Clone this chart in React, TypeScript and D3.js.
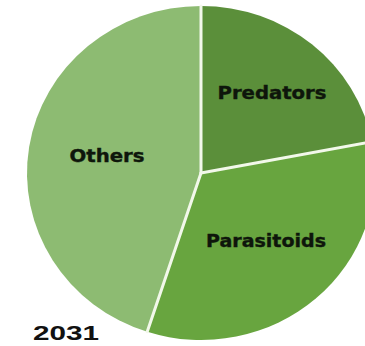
import React from "react";
import * as d3 from "d3";

const categories = ["Predators", "Parasitoids", "Others"];
const values = [22, 33, 45];
const colors = ["#5b8f3a", "#68a53f", "#8dbb72"];
const title = "2031";

const W = 365;
const H = 346;
const cx = 201;
const cy = 173;
const ry = 167;
const rx = 174;

const labelPos: Record<string, [number, number, number]> = {
  Predators: [272, 99, 109],
  Parasitoids: [266, 247, 120],
  Others: [107, 162, 75],
};

export default function App() {
  const pie = d3.pie<number>().sort(null).value((d) => d)(values);
  const arc = d3.arc<d3.PieArcDatum<number>>().innerRadius(0).outerRadius(ry);
  return (
    <svg
      width={W}
      height={H}
      style={{ position: "absolute", left: 0, top: 0, background: "#fff" }}
    >
      <g transform={`translate(${cx},${cy}) scale(${rx / ry},1)`}>
        {pie.map((p, i) => (
          <path key={categories[i]} d={arc(p) || ""} fill={colors[i]} />
        ))}
      </g>
      {pie.map((p, i) => (
        <line
          key={"div" + i}
          x1={cx}
          y1={cy}
          x2={cx + rx * Math.sin(p.startAngle)}
          y2={cy - ry * Math.cos(p.startAngle)}
          stroke="#f2f8ea"
          strokeWidth={3}
          strokeLinecap="round"
        />
      ))}
      {categories.map((c) => {
        const [x, y, len] = labelPos[c];
        return (
          <text
            key={c}
            x={x}
            y={y}
            textAnchor="middle"
            fontFamily="'DejaVu Sans', sans-serif"
            fontWeight="bold"
            fontSize={18}
            fill="#0e160b"
            stroke="#0e160b"
            strokeWidth={0.4}
            textLength={len}
            lengthAdjust="spacingAndGlyphs"
          >
            {c}
          </text>
        );
      })}
      <text
        x={33}
        y={340}
        fontFamily="'Liberation Sans', Arial, sans-serif"
        fontWeight="bold"
        fontSize={21}
        fill="#111"
        textLength={66}
        lengthAdjust="spacingAndGlyphs"
      >
        {title}
      </text>
    </svg>
  );
}
